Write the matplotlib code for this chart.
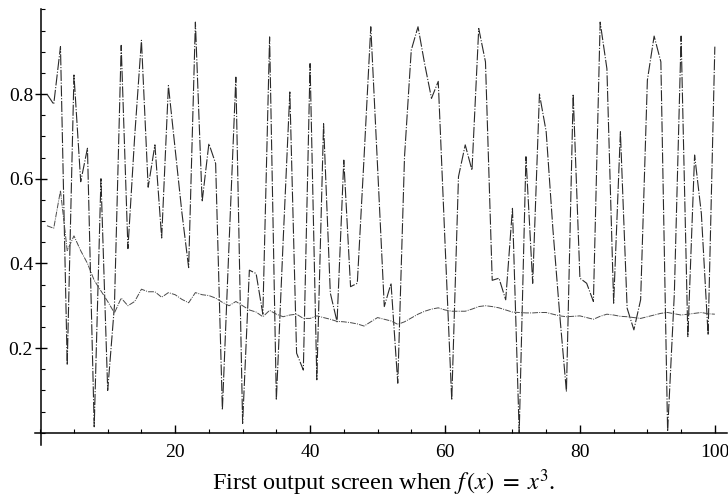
import matplotlib.pyplot as plt
from matplotlib.ticker import MultipleLocator

plt.rcParams['font.family'] = ['Liberation Serif', 'DejaVu Serif']
plt.rcParams['mathtext.fontset'] = 'stix'

# orbit values (jagged dash-dot line) and running average (smooth line), n = 1..100
orbit = [0.80, 0.776, 0.912, 0.16, 0.845, 0.593, 0.672, 0.014, 0.60, 0.10,
         0.30, 0.915, 0.435, 0.70, 0.927, 0.58, 0.68, 0.46, 0.82, 0.67,
         0.52, 0.39, 0.97, 0.546, 0.683, 0.636, 0.054, 0.45, 0.84, 0.022,
         0.384, 0.376, 0.28, 0.935, 0.077, 0.45, 0.805, 0.188, 0.148, 0.872,
         0.125, 0.73, 0.33, 0.262, 0.644, 0.345, 0.353, 0.65, 0.959, 0.63,
         0.298, 0.353, 0.117, 0.652, 0.904, 0.959, 0.87, 0.79, 0.83, 0.45,
         0.077, 0.605, 0.68, 0.62, 0.955, 0.876, 0.36, 0.365, 0.314, 0.53,
         0.0, 0.652, 0.353, 0.80, 0.711, 0.48, 0.28, 0.097, 0.80, 0.365,
         0.353, 0.31, 0.97, 0.86, 0.306, 0.711, 0.294, 0.243, 0.314, 0.833,
         0.937, 0.876, 0.003, 0.33, 0.937, 0.227, 0.656, 0.518, 0.231, 0.912]

average = [0.489, 0.483, 0.572, 0.43, 0.465, 0.43, 0.40, 0.36, 0.335, 0.31,
           0.283, 0.318, 0.30, 0.31, 0.339, 0.333, 0.333, 0.32, 0.331, 0.326,
           0.315, 0.307, 0.331, 0.326, 0.324, 0.318, 0.308, 0.30, 0.31, 0.30,
           0.29, 0.285, 0.274, 0.289, 0.28, 0.274, 0.278, 0.28, 0.27, 0.27,
           0.276, 0.272, 0.268, 0.263, 0.262, 0.26, 0.257, 0.252, 0.262, 0.272,
           0.268, 0.264, 0.256, 0.262, 0.271, 0.28, 0.287, 0.292, 0.295, 0.29,
           0.287, 0.287, 0.287, 0.292, 0.298, 0.30, 0.298, 0.295, 0.29, 0.285,
           0.284, 0.283, 0.283, 0.284, 0.284, 0.28, 0.276, 0.274, 0.275, 0.276,
           0.272, 0.268, 0.275, 0.28, 0.278, 0.275, 0.274, 0.272, 0.27, 0.274,
           0.278, 0.282, 0.284, 0.281, 0.278, 0.28, 0.282, 0.284, 0.281, 0.28]

n = list(range(1, len(orbit) + 1))

fig = plt.figure(figsize=(7.28, 4.98), dpi=100)
ax = fig.add_axes([0.046, 0.1056, 0.9526, 0.8755])

ax.plot(n, orbit, color='#2a2a2a', linewidth=0.8,
        linestyle=(0, (10, 1.5, 1, 1.5)))
ax.plot(n, average, color='#4a4a4a', linewidth=0.7,
        linestyle=(0, (6, 1.2, 1, 1.2)))

ax.set_xlim(-1.0, 101.8)
ax.set_ylim(-0.03, 1.0)

for side in ['top', 'right']:
    ax.spines[side].set_visible(False)
ax.spines['left'].set_position(('data', 0.066))
ax.spines['bottom'].set_position(('data', 0.0))
ax.spines['bottom'].set_bounds(-0.8, 101.8)
ax.spines['left'].set_linewidth(1.1)
ax.spines['bottom'].set_linewidth(1.1)

ax.xaxis.set_minor_locator(MultipleLocator(5))
ax.yaxis.set_minor_locator(MultipleLocator(0.05))
ax.set_xticks([20, 40, 60, 80, 100])
ax.set_yticks([0.2, 0.4, 0.6, 0.8])
ax.set_yticklabels(['0.2', '0.4', '0.6', '0.8'])

ax.tick_params(axis='x', which='major', direction='in', length=6, width=1,
               pad=8, labelsize=14)
ax.tick_params(axis='x', which='minor', direction='in', length=3, width=0.8)
ax.tick_params(axis='y', which='major', direction='inout', length=9, width=1,
               pad=1, labelsize=14)
ax.tick_params(axis='y', which='minor', direction='in', length=3, width=0.8)

fig.text(0.527, 0.03, 'First output screen when $f\\,(x) \\;=\\; x^3$.',
         ha='center', va='center', fontsize=17.5)

fig.savefig('out.png', dpi=100)
